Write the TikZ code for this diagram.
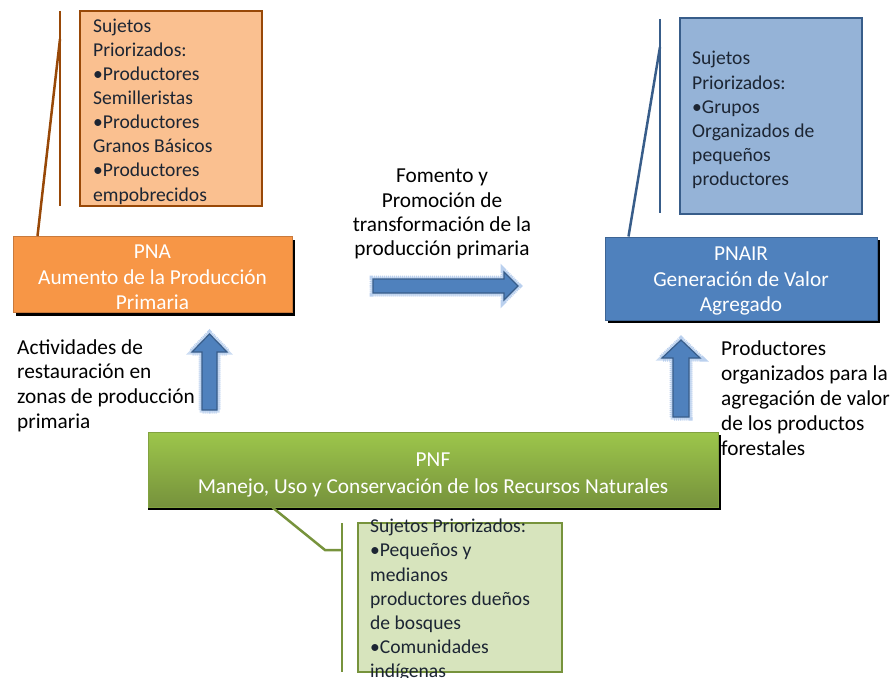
\documentclass[tikz,border=0pt]{standalone}
\usepackage{fontspec}
\setmainfont{Carlito}
\usetikzlibrary{calc,shadows}
\definecolor{orgfill}{HTML}{F79646}
\definecolor{orglight}{HTML}{FAC090}
\definecolor{orgdark}{HTML}{984807}
\definecolor{orgedge}{HTML}{C97A3C}
\definecolor{bluefill}{HTML}{4F81BD}
\definecolor{bluelight}{HTML}{95B3D7}
\definecolor{bluedark}{HTML}{385D8A}
\definecolor{greentop}{HTML}{9DC64B}
\definecolor{greenbot}{HTML}{76923C}
\definecolor{greenlight}{HTML}{D7E4BD}
\definecolor{greendark}{HTML}{77933C}
\definecolor{glow}{HTML}{A9C4EA}
\definecolor{ink}{HTML}{1C2533}
\tikzset{
  mainbox/.style={rectangle, inner sep=0pt, line width=1pt,
    general shadow={fill=black, shadow xshift=3pt, shadow yshift=-3pt}},
  boxtext/.style={align=center, text=white, inner sep=0pt,
    font=\fontsize{21.3}{25.5}\selectfont},
  callbox/.style={rectangle, line width=2.5pt, inner sep=0pt},
  calltext/.style={anchor=west, align=left, inner sep=0pt, text=ink,
    font=\fontsize{19.6}{24.1}\selectfont},
  sidetext/.style={inner sep=0pt, text=black,
    font=\fontsize{21.3}{24.7}\selectfont},
  orgline/.style={draw=orgdark, line width=2.5pt},
  blueline/.style={draw=bluedark, line width=2.5pt},
  greenline/.style={draw=greendark, line width=2.5pt},
  blockarrow/.style={fill=bluefill, draw=bluedark, line width=1.2pt, line join=miter,
    preaction={draw=glow!60, line width=5pt, line join=miter},
    preaction={draw=glow!80, line width=7pt, line join=miter, dash pattern=on 1pt off 1pt}}
}
\begin{document}
\begin{tikzpicture}[x=1pt,y=-1pt]
\useasboundingbox (0,0) rectangle (893,677);

% ---------- orange callout and PNA ----------
\node[callbox, draw=orgdark, fill=orglight, minimum width=182, minimum height=195] (ocall) at (171,108.5) {};
\node[calltext] (otext) at (93,111.5) {Sujetos\\Priorizados:\\•Productores\\Semilleristas\\•Productores\\Granos Básicos\\•Productores\\empobrecidos};
\node[mainbox, fill=orgfill, draw=orgedge, minimum width=279, minimum height=76] (pna) at (152.5,274.5) {};
\node[boxtext] (pnalabel) at ($(pna.center)+(0,3)$) {PNA\\Aumento de la Producción\\Primaria};
\coordinate (ol1) at (60,11);
\coordinate (ol2) at (60,206);
\coordinate (ol3) at (60,39);
\draw[orgline] (ol1) -- (ol2);
\draw[orgline] (ol3) -- ($(pna.north west)+(25,0)$);

% ---------- blue callout and PNAIR ----------
\node[callbox, draw=bluedark, line width=2pt, fill=bluelight, minimum width=182, minimum height=196] (bcall) at (771,116) {};
\node[calltext] (btext) at (692,120) {Sujetos\\Priorizados:\\•Grupos\\Organizados de\\pequeños\\productores};
\node[mainbox, fill=bluefill, draw=bluedark!80!bluefill, minimum width=272, minimum height=83] (pnair) at (741,278.5) {};
\node[boxtext] (pnairlabel) at ($(pnair.center)+(0,2.5)$) {PNAIR\\Generación de Valor\\Agregado};
\coordinate (bl1) at (660,19);
\coordinate (bl2) at (660,213);
\coordinate (bl3) at (660,47);
\draw[blueline] (bl1) -- (bl2);
\draw[blueline] (bl3) -- ($(pnair.north west)+(24,0)$);

% ---------- PNF and green callout ----------
\node[mainbox, top color=greentop, bottom color=greenbot, draw=greendark!70!greentop,
  general shadow={fill=black, shadow xshift=0pt, shadow yshift=-3pt},
  minimum width=570, minimum height=75] (pnf) at (433,469.5) {};
\node[boxtext, font=\fontsize{21.3}{27}\selectfont] (pnflabel) at ($(pnf.center)+(0,5.5)$) {PNF\\Manejo, Uso y Conservación de los Recursos Naturales};
\node[callbox, draw=greendark, fill=greenlight, minimum width=204, minimum height=149] (gcall) at (460,597.5) {};
\node[calltext] (gtext) at (370,600) {Sujetos Priorizados:\\•Pequeños y\\medianos\\productores dueños\\de bosques\\•Comunidades\\indígenas};
\coordinate (gl1) at (342,523);
\coordinate (gl2) at (342,672);
\coordinate (gl3) at (325,550);
\coordinate (gl4) at (342,550);
\draw[greenline] (gl1) -- (gl2);
\draw[greenline, line join=miter] ($(pnf.south west)+(125,0)$) -- (gl3) -- (gl4);

% ---------- texts ----------
\node[sidetext, align=center, font=\fontsize{21.3}{24.2}\selectfont] (ctext) at (442,214) {Fomento y\\Promoción de\\transformación de la\\producción primaria};
\node[sidetext, align=left, anchor=west] (ltext) at (17,385.5) {Actividades de\\restauración en\\zonas de producción\\primaria};
\node[sidetext, align=left, anchor=west, font=\fontsize{21.3}{25}\selectfont] (rtext) at (721,398) {Productores\\organizados para la\\agregación de valor\\de los productos\\forestales};

% ---------- block arrows ----------
\coordinate (ra) at (373,286);
\path[blockarrow] (ra) -- ++(0,-7) -- ++(131,0) -- ++(0,-7) -- ++(14,14) -- ++(-14,14) -- ++(0,-7) -- ++(-131,0) -- cycle;
\coordinate (la) at (209.5,410);
\path[blockarrow] (la) -- ++(-7.5,0) -- ++(0,-58) -- ++(-10,0) -- ++(17.5,-18) -- ++(17.5,18) -- ++(-10,0) -- ++(0,58) -- cycle;
\coordinate (ua) at (681,417);
\path[blockarrow] (ua) -- ++(-8,0) -- ++(0,-59) -- ++(-11,0) -- ++(19,-18) -- ++(19,18) -- ++(-11,0) -- ++(0,59) -- cycle;
\end{tikzpicture}
\end{document}
